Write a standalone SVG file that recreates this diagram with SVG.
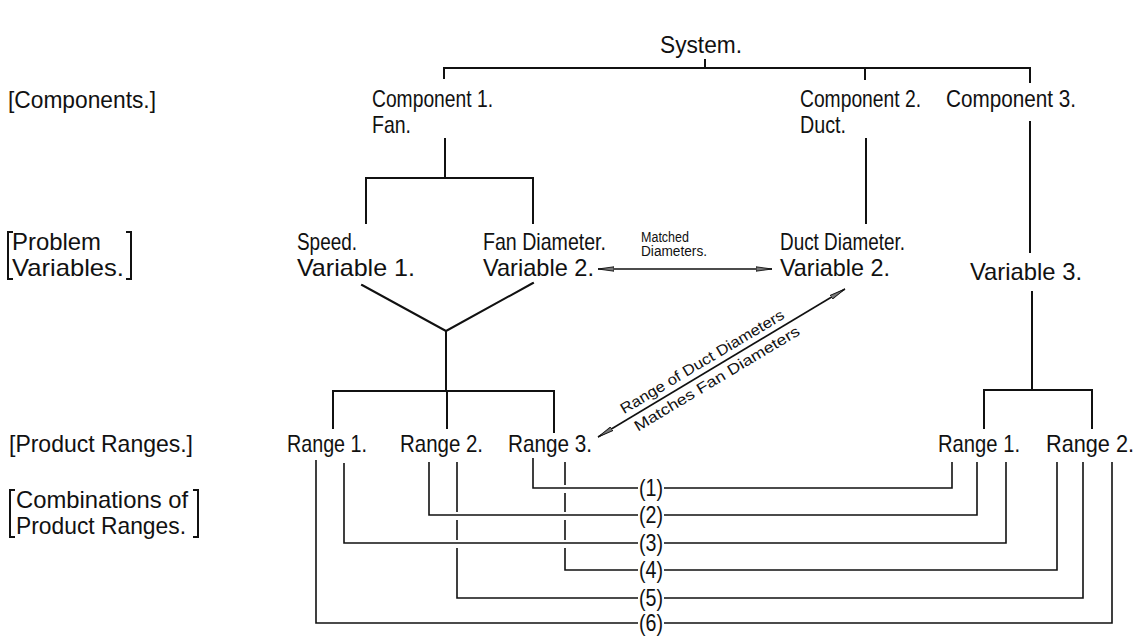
<svg xmlns="http://www.w3.org/2000/svg" width="1145" height="638" viewBox="0 0 1145 638">
<style>
text{font-family:"Liberation Sans",Arial,sans-serif;font-size:24px;fill:#111}
.s{font-size:14px}
.d{font-size:15px}
.ln{stroke:#111;stroke-width:2;fill:none;stroke-linecap:square}
.cb{stroke:#111;stroke-width:1.6;fill:none}
.br{stroke:#111;stroke-width:2;fill:none}
</style>
<defs>
<marker id="ah" viewBox="0 0 16 6" markerWidth="16" markerHeight="6" refX="16" refY="3" orient="auto-start-reverse" markerUnits="userSpaceOnUse">
<path d="M0,0.8 L16,3 L0,5.2 Z" fill="#777" stroke="#111" stroke-width="0.9"/>
</marker>
</defs>
<rect width="1145" height="638" fill="#fff"/>

<g id="level-labels">
<g id="lbl-components"><text x="8" y="108" textLength="148" lengthAdjust="spacingAndGlyphs">[Components.]</text></g>
<g id="lbl-problem">
<path class="br" d="M13,232 H8 V279 H13 M126,232 H131 V279 H126"/>
<text x="12" y="250" textLength="89" lengthAdjust="spacingAndGlyphs">Problem</text>
<text x="12" y="276" textLength="112" lengthAdjust="spacingAndGlyphs">Variables.</text>
</g>
<g id="lbl-product"><text x="9" y="452" textLength="184" lengthAdjust="spacingAndGlyphs">[Product Ranges.]</text></g>
<g id="lbl-combinations">
<path class="br" d="M15,490 H10 V537 H15 M193,490 H198 V537 H193"/>
<text x="16" y="508" textLength="172" lengthAdjust="spacingAndGlyphs">Combinations of</text>
<text x="16" y="534" textLength="170" lengthAdjust="spacingAndGlyphs">Product Ranges.</text>
</g>
</g>

<g id="connectors">
<path class="ln" d="M705,60 V68 M444,78 V68 H1030 V82 M865,68 V79"/>
<path class="ln" d="M445,139 V178 M366,223 V178 H533 V223"/>
<path class="ln" d="M866,139 V223"/>
<path class="ln" d="M1030,122 V252 M1032,292 V390"/>
<path class="ln" d="M362,285 L446,331 L533,283 M446,331 V391"/>
<path class="ln" d="M333,428 V391 H554 V432 M447,391 V428"/>
<path class="ln" d="M984,428 V390 H1092 V428"/>
<path class="cb" d="M598,269 H772" marker-start="url(#ah)" marker-end="url(#ah)"/>
<path class="cb" d="M598,437 L845,289" marker-start="url(#ah)" marker-end="url(#ah)"/>
<g id="combos">
<path class="cb" d="M533,458 V488 H638 M664,488 H952 V462"/>
<path class="cb" d="M429,462 V515 H638 M664,515 H977 V462"/>
<path class="cb" d="M344,463 V543 H638 M664,543 H1006 V462"/>
<path class="cb" d="M565,462 V485 M565,493 V512 M565,520 V540 M565,548 V570 H638 M664,570 H1057 V462"/>
<path class="cb" d="M457,462 V512 M457,520 V540 M457,548 V598 H638 M664,598 H1083 V462"/>
<path class="cb" d="M316,460 V623 H638 M664,623 H1112 V462"/>
</g>
</g>

<g id="system"><text x="660" y="53" textLength="82" lengthAdjust="spacingAndGlyphs">System.</text></g>
<g id="component1">
<text x="372" y="107" textLength="121" lengthAdjust="spacingAndGlyphs">Component 1.</text>
<text x="372" y="133" textLength="39" lengthAdjust="spacingAndGlyphs">Fan.</text>
</g>
<g id="component2">
<text x="800" y="107" textLength="121" lengthAdjust="spacingAndGlyphs">Component 2.</text>
<text x="800" y="133" textLength="46" lengthAdjust="spacingAndGlyphs">Duct.</text>
</g>
<g id="component3"><text x="946" y="107" textLength="130" lengthAdjust="spacingAndGlyphs">Component 3.</text></g>

<g id="variable1">
<text x="297" y="250" textLength="60" lengthAdjust="spacingAndGlyphs">Speed.</text>
<text x="297" y="276" textLength="118" lengthAdjust="spacingAndGlyphs">Variable 1.</text>
</g>
<g id="variable2-fan">
<text x="483" y="250" textLength="123" lengthAdjust="spacingAndGlyphs">Fan Diameter.</text>
<text x="483" y="276" textLength="111" lengthAdjust="spacingAndGlyphs">Variable 2.</text>
</g>
<g id="matched-label">
<text class="s" x="641" y="242" textLength="48" lengthAdjust="spacingAndGlyphs">Matched</text>
<text class="s" x="641" y="256" textLength="66" lengthAdjust="spacingAndGlyphs">Diameters.</text>
</g>
<g id="variable2-duct">
<text x="780" y="250" textLength="125" lengthAdjust="spacingAndGlyphs">Duct Diameter.</text>
<text x="780" y="276" textLength="110" lengthAdjust="spacingAndGlyphs">Variable 2.</text>
</g>
<g id="variable3"><text x="970" y="280" textLength="112" lengthAdjust="spacingAndGlyphs">Variable 3.</text></g>

<g id="diag-label" transform="translate(709.5,370.2) rotate(-30.9)">
<text class="d" x="-2" y="-6" text-anchor="middle" textLength="188" lengthAdjust="spacingAndGlyphs">Range of Duct Diameters</text>
<text class="d" x="2" y="16" text-anchor="middle" textLength="190" lengthAdjust="spacingAndGlyphs">Matches  Fan Diameters</text>
</g>

<g id="range1-left"><text x="287" y="452" textLength="80" lengthAdjust="spacingAndGlyphs">Range 1.</text></g>
<g id="range2-left"><text x="400" y="452" textLength="83" lengthAdjust="spacingAndGlyphs">Range 2.</text></g>
<g id="range3-left"><text x="508" y="452" textLength="84" lengthAdjust="spacingAndGlyphs">Range 3.</text></g>
<g id="range1-right"><text x="938" y="452" textLength="82" lengthAdjust="spacingAndGlyphs">Range 1.</text></g>
<g id="range2-right"><text x="1046" y="452" textLength="88" lengthAdjust="spacingAndGlyphs">Range 2.</text></g>

<g id="combo-labels">
<text x="639" y="496" textLength="24" lengthAdjust="spacingAndGlyphs">(1)</text>
<text x="639" y="523" textLength="24" lengthAdjust="spacingAndGlyphs">(2)</text>
<text x="639" y="551" textLength="24" lengthAdjust="spacingAndGlyphs">(3)</text>
<text x="639" y="578" textLength="24" lengthAdjust="spacingAndGlyphs">(4)</text>
<text x="639" y="606" textLength="24" lengthAdjust="spacingAndGlyphs">(5)</text>
<text x="639" y="631" textLength="24" lengthAdjust="spacingAndGlyphs">(6)</text>
</g>
</svg>
